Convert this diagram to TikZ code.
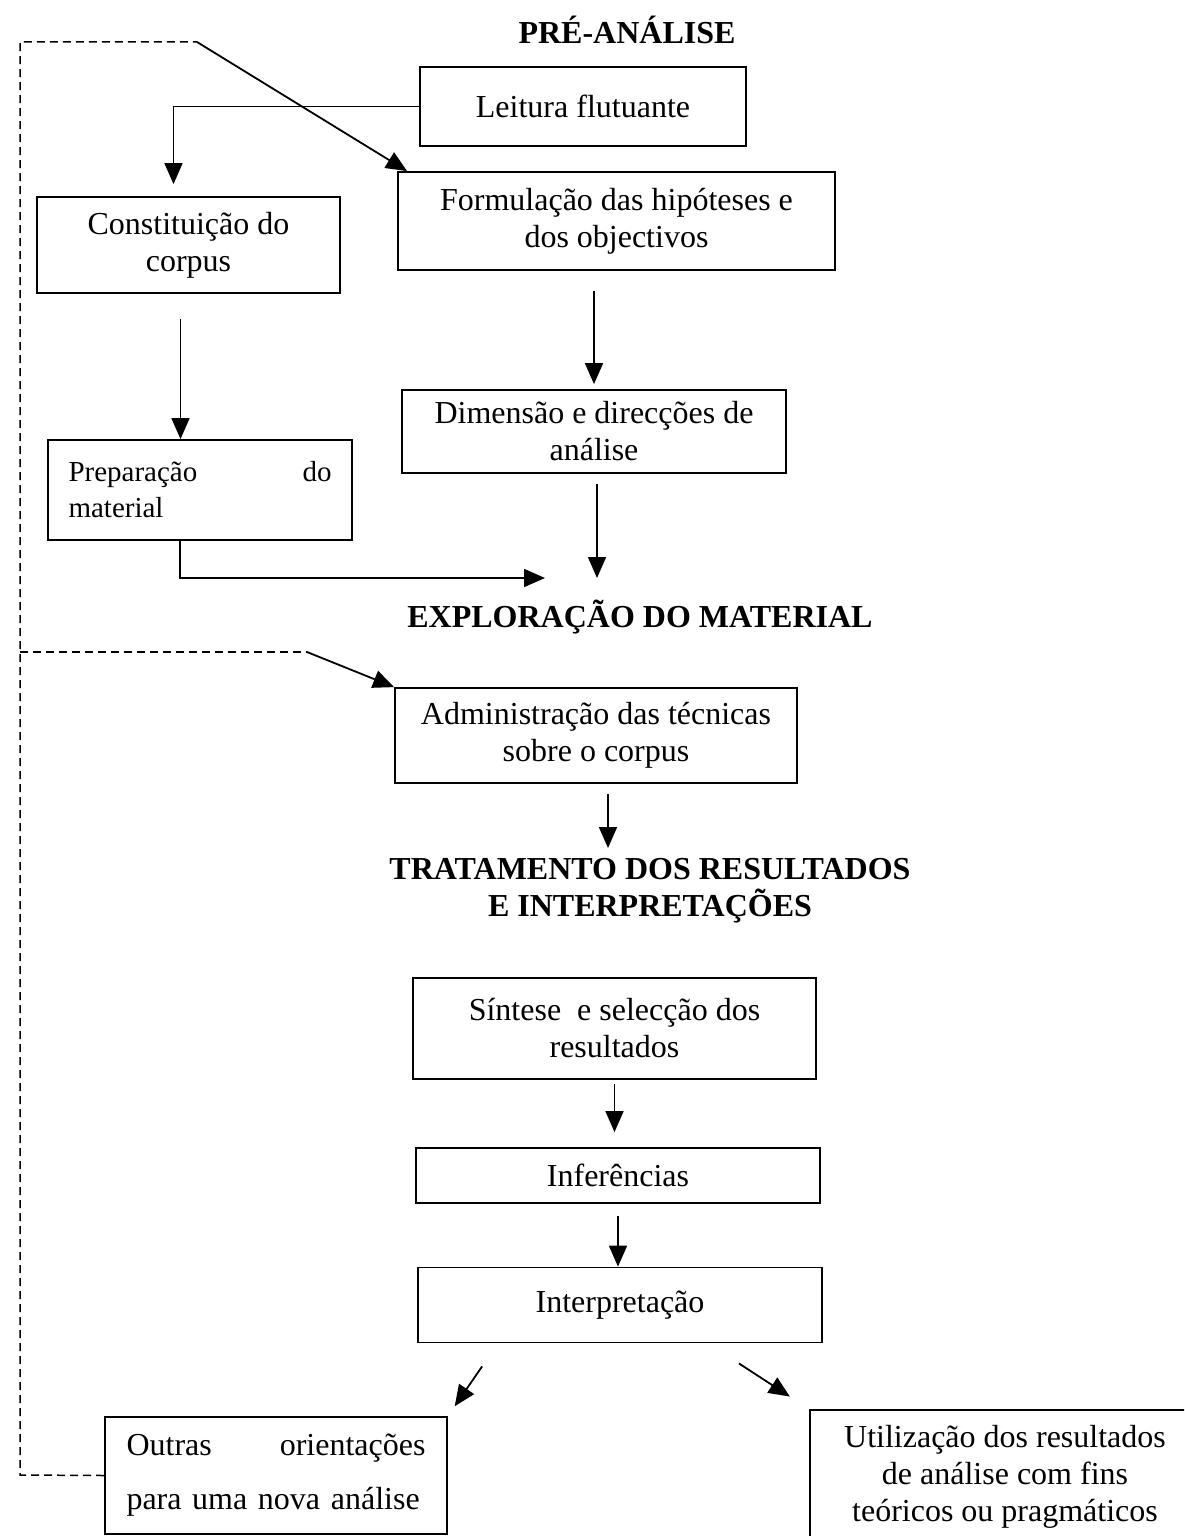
\documentclass[tikz,border=0pt]{standalone}
\usepackage{fontspec}
\setmainfont{Liberation Serif}
\usetikzlibrary{arrows.meta}
\begin{document}
\begin{tikzpicture}[x=1pt,y=-1pt,
  box/.style={draw, line width=1.8pt, inner sep=0pt, align=center,
    font=\fontsize{32}{37}\selectfont},
  head/.style={font=\fontsize{32}{37}\selectfont\bfseries, align=center, inner sep=0pt},
  arr/.style={line width=1.8pt, -{Triangle[length=21pt,width=18pt]}},
  fb/.style={line width=1.5pt, dash pattern=on 8pt off 5pt},
]
\clip (0,0) rectangle (1184,1536);
\fill[white] (0,0) rectangle (1184,1536);

% stage headings
\node[head] (pre)  at (627,30)  {PRÉ-ANÁLISE};
\node[head] (expl) at (640,617) {EXPLORAÇÃO DO MATERIAL};
\node[head] (trat) at (650,891) {TRATAMENTO DOS RESULTADOS\\E INTERPRETAÇÕES};

% pre-analysis
\node[box, minimum width=326pt, minimum height=79pt] (leit) at (583,106.5) {Leitura flutuante};
\node[box, minimum width=437pt, minimum height=98pt] (form) at (616.5,221) {Formulação das hipóteses e\\dos objectivos};
\node[box, minimum width=303pt, minimum height=96pt] (const) at (188.5,245) {Constituição do\\corpus};
\node[box, minimum width=384pt, minimum height=83pt] (dim) at (594,431.5) {Dimensão e direcções de\\análise};
\node[box, minimum width=304pt, minimum height=100pt, text width=263pt, align=left,
  font=\fontsize{29}{36}\selectfont] (prep) at (200,490) {Preparação\hfill do\\material};

% exploration
\node[box, minimum width=402pt, minimum height=95pt] (adm) at (596,735.5) {Administração das técnicas\\sobre o corpus};

% treatment of results
\node[box, minimum width=403pt, minimum height=101pt] (sint) at (614.5,1028.5) {Síntese\ \ e selecção dos\\resultados};
\node[box, minimum width=404pt, minimum height=55pt] (inf) at (618,1175.5) {Inferências};
\node[box, minimum width=404pt, minimum height=75pt] (interp) at (620,1305) {Interpretação};
\node[box, minimum width=342pt, minimum height=117pt, text width=299pt, align=left,
  font=\fontsize{32}{54}\selectfont] (outras) at (276,1475.5) {Outras\hfill orientações\\para uma nova análise};
\node[box, minimum width=390pt, minimum height=134pt] (util) at (1005,1477) {Utilização dos resultados\\de análise com fins\\teóricos ou pragmáticos};

% junction points
\coordinate (m1) at (597,578);
\coordinate (m2) at (545,578);
\coordinate (m3) at (608,848);
\coordinate (fbtop) at (20,42);
\coordinate (fbtopend) at (197,42);
\coordinate (fbmid) at (20,652);
\coordinate (fbmidend) at (307,652);
\coordinate (fbbot) at (20,1475);

% main flow
\draw[arr, shorten >=12pt] (leit.west) -| ([xshift=-15pt]const.north);
\draw[arr, shorten <=20pt, shorten >=5pt] (dim.north |- form.south) -- (dim.north);
\draw[arr, shorten <=25pt] ([xshift=-8pt]const.south) -- ([xshift=-8pt]const.south |- prep.north);
\draw[arr, shorten <=10pt] (dim.south -| m1) -- (m1);
\draw[arr] ([xshift=-20pt]prep.south) |- (m2);
\draw[arr, shorten <=10pt] (adm.south -| m3) -- (m3);
\draw[arr, shorten <=4pt, shorten >=15pt] (sint.south) -- (sint.south |- inf.north);
\draw[arr, shorten <=12pt] (inf.south) -- (inf.south |- interp.north);
\draw[arr, shorten >=12pt] ([xshift=65pt,yshift=-23pt]interp.south west) -- (outras.north east);
\draw[arr, shorten >=23pt] ([xshift=-84pt,yshift=-20pt]interp.south east) -- (util.north west);

% feedback loop
\draw[fb] (outras.west) -- (fbbot) -- (fbtop) -- (fbtopend);
\draw[fb] (fbmid) -- (fbmidend);
\draw[arr] (fbtopend) -- ([xshift=10pt]form.north west);
\draw[arr] (fbmidend) -- (adm.north west);
\end{tikzpicture}
\end{document}
